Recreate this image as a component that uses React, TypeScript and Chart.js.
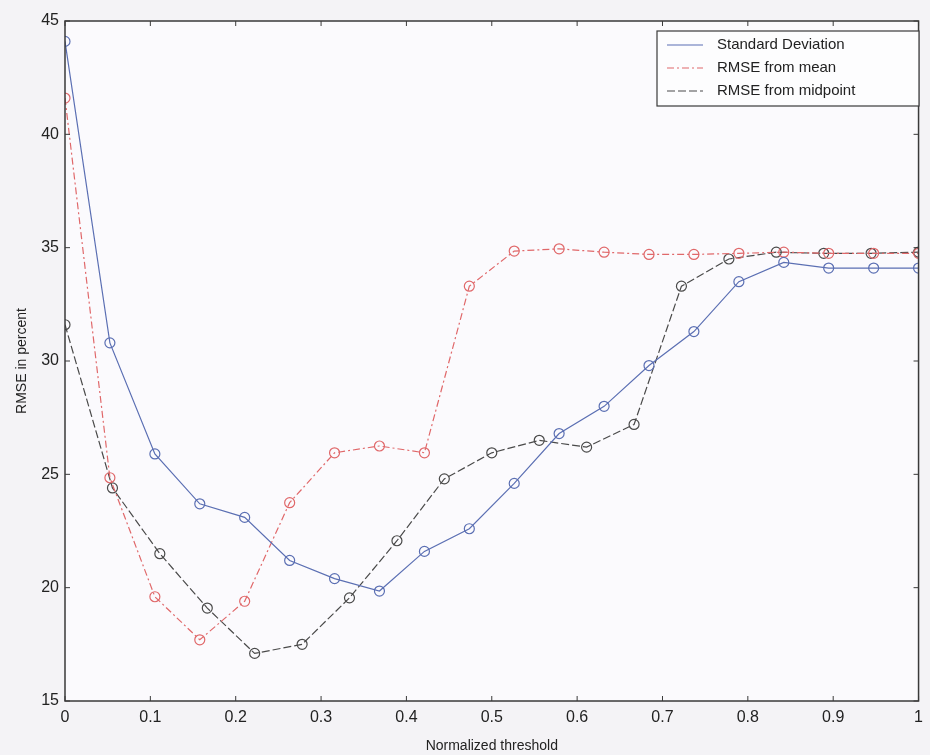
import React, { useEffect, useRef } from "react";
import { Chart, registerables } from "chart.js";

Chart.register(...registerables);

// Thresholds (x values)
const thresholds19 = [0, 0.0526, 0.1053, 0.1579, 0.2105, 0.2632, 0.3158, 0.3684, 0.4211, 0.4737, 0.5263, 0.5789, 0.6316, 0.6842, 0.7368, 0.7895, 0.8421, 0.8947, 0.9474, 1];
const thresholds18 = [0, 0.0556, 0.1111, 0.1667, 0.2222, 0.2778, 0.3333, 0.3889, 0.4444, 0.5, 0.5556, 0.6111, 0.6667, 0.7222, 0.7778, 0.8333, 0.8889, 0.9444, 1];

// Series values (RMSE in percent)
const stdDev = [44.1, 30.8, 25.9, 23.7, 23.1, 21.2, 20.4, 19.85, 21.6, 22.6, 24.6, 26.8, 28.0, 29.8, 31.3, 33.5, 34.35, 34.1, 34.1, 34.1];
const rmseMean = [41.6, 24.85, 19.6, 17.7, 19.4, 23.75, 25.95, 26.25, 25.95, 33.3, 34.85, 34.95, 34.8, 34.7, 34.7, 34.75, 34.8, 34.75, 34.75, 34.75];
const rmseMid = [31.6, 24.4, 21.5, 19.1, 17.1, 17.5, 19.55, 22.07, 24.8, 25.95, 26.5, 26.2, 27.2, 33.3, 34.5, 34.8, 34.75, 34.75, 34.8];

const seriesLabels = ["Standard Deviation", "RMSE from mean", "RMSE from midpoint"];
const yTickValues = [15, 20, 25, 30, 35, 40, 45];
const xTickValues = [0, 0.1, 0.2, 0.3, 0.4, 0.5, 0.6, 0.7, 0.8, 0.9, 1];

const BLUE = "#5b6fb3";
const RED = "#e0686a";
const BLACK = "#4a4a4a";

const toPoints = (xs: number[], ys: number[]) => ys.map((y, i) => ({ x: xs[i], y }));

const framePlugin = {
  id: "frameAndLegend",
  afterDraw(chart: any) {
    const { ctx, chartArea } = chart;
    const { left, right, top, bottom } = chartArea;
    const xs = chart.scales.x;
    const ys = chart.scales.y;
    ctx.save();
    ctx.strokeStyle = "#3a3a3a";
    ctx.lineWidth = 1.5;
    ctx.strokeRect(left, top, right - left, bottom - top);
    ctx.lineWidth = 1;
    const tl = 5;
    xTickValues.forEach((v) => {
      const px = xs.getPixelForValue(v);
      ctx.beginPath();
      ctx.moveTo(px, bottom);
      ctx.lineTo(px, bottom - tl);
      ctx.moveTo(px, top);
      ctx.lineTo(px, top + tl);
      ctx.stroke();
    });
    yTickValues.forEach((v) => {
      const py = ys.getPixelForValue(v);
      ctx.beginPath();
      ctx.moveTo(left, py);
      ctx.lineTo(left + tl, py);
      ctx.moveTo(right, py);
      ctx.lineTo(right - tl, py);
      ctx.stroke();
    });

    // legend box inside plot
    const bx = 657, by = 31, bw = 262, bh = 75;
    ctx.fillStyle = "#fdfdfe";
    ctx.fillRect(bx, by, bw, bh);
    ctx.strokeStyle = "#3a3a3a";
    ctx.lineWidth = 1.2;
    ctx.strokeRect(bx, by, bw, bh);
    const ds = chart.data.datasets;
    ctx.font = "15px 'Liberation Sans', Arial, sans-serif";
    ctx.textBaseline = "middle";
    ctx.textAlign = "left";
    ds.forEach((d: any, i: number) => {
      const ry = by + 14 + i * 23;
      ctx.beginPath();
      ctx.setLineDash(d.borderDash || []);
      ctx.strokeStyle = d.borderColor;
      ctx.lineWidth = 1.2;
      ctx.moveTo(bx + 10, ry);
      ctx.lineTo(bx + 46, ry);
      ctx.stroke();
      ctx.setLineDash([]);
      ctx.fillStyle = "#222";
      ctx.fillText(d.label, bx + 60, ry);
    });
    ctx.restore();
  },
};

const bgPlugin = {
  id: "bg",
  beforeDraw(chart: any) {
    const { ctx, width, height } = chart;
    ctx.save();
    ctx.fillStyle = "#f4f3f6";
    ctx.fillRect(0, 0, width, height);
    const { left, right, top, bottom } = chart.chartArea;
    ctx.fillStyle = "#fbfafd";
    ctx.fillRect(left, top, right - left, bottom - top);
    ctx.restore();
  },
};

export default function App() {
  const ref = useRef<HTMLCanvasElement | null>(null);
  useEffect(() => {
    if (!ref.current) return;
    const font = { family: "'Liberation Sans', Arial, sans-serif", size: 16 };
    const chart = new Chart(ref.current, {
      type: "line",
      data: {
        datasets: [
          {
            label: seriesLabels[0],
            data: toPoints(thresholds19, stdDev),
            borderColor: BLUE,
            backgroundColor: "transparent",
            pointBorderColor: BLUE,
            pointBackgroundColor: "transparent",
            borderWidth: 1.2,
            pointRadius: 5,
            pointBorderWidth: 1.2,
            tension: 0,
          },
          {
            label: seriesLabels[1],
            data: toPoints(thresholds19, rmseMean),
            borderColor: RED,
            backgroundColor: "transparent",
            pointBorderColor: RED,
            pointBackgroundColor: "transparent",
            borderWidth: 1.2,
            borderDash: [7, 3, 2, 3],
            pointRadius: 5,
            pointBorderWidth: 1.2,
            tension: 0,
          },
          {
            label: seriesLabels[2],
            data: toPoints(thresholds18, rmseMid),
            borderColor: BLACK,
            backgroundColor: "transparent",
            pointBorderColor: BLACK,
            pointBackgroundColor: "transparent",
            borderWidth: 1.2,
            borderDash: [8, 3],
            pointRadius: 5,
            pointBorderWidth: 1.2,
            tension: 0,
          },
        ],
      },
      options: {
        animation: false,
        responsive: true,
        maintainAspectRatio: false,
        layout: { padding: { left: 0, right: 3, top: 21, bottom: 0 } },
        plugins: { legend: { display: false }, tooltip: { enabled: false } },
        scales: {
          x: {
            type: "linear",
            min: 0,
            max: 1,
            afterBuildTicks: (s: any) => {
              s.ticks = xTickValues.map((v) => ({ value: v }));
            },
            afterFit: (s: any) => {
              s.height = 54;
            },
            grid: { display: false, drawTicks: false },
            border: { display: false },
            ticks: {
              color: "#222",
              font,
              padding: 7,
              autoSkip: false,
              maxRotation: 0,
              callback: (v: any) => (v === 0 ? "0" : v === 1 ? "1" : Number(v).toFixed(1)),
            },
            title: {
              display: true,
              text: "Normalized threshold",
              color: "#222",
              font: { ...font, size: 14 },
              padding: { top: 2, bottom: 0 },
            },
          },
          y: {
            type: "linear",
            min: 15,
            max: 45,
            afterBuildTicks: (s: any) => {
              s.ticks = yTickValues.map((v) => ({ value: v }));
            },
            afterFit: (s: any) => {
              s.width = 65;
            },
            grid: { display: false, drawTicks: false },
            border: { display: false },
            ticks: {
              color: "#222",
              font,
              padding: 6,
              autoSkip: false,
            },
            title: {
              display: true,
              text: "RMSE in percent",
              color: "#222",
              font: { ...font, size: 14 },
              padding: { top: 14, bottom: 0 },
            },
          },
        },
      },
      plugins: [bgPlugin, framePlugin],
    } as any);
    return () => chart.destroy();
  }, []);
  return (
    <div style={{ position: "absolute", left: 0, top: 0, width: 930, height: 755 }}>
      <canvas ref={ref} />
    </div>
  );
}
